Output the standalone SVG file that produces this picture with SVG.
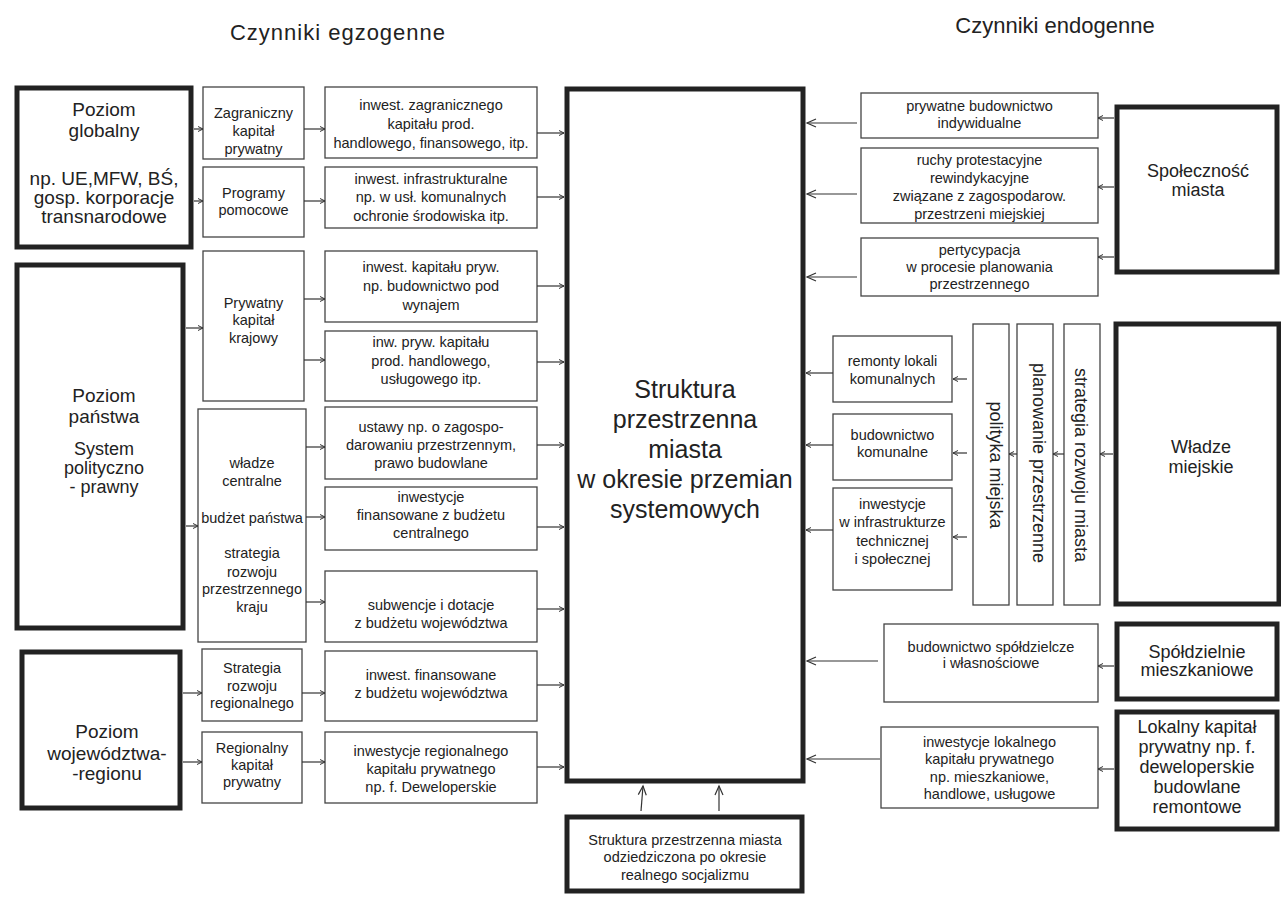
<svg xmlns="http://www.w3.org/2000/svg" width="1281" height="905" viewBox="0 0 1281 905">
<defs>
<marker id="s" markerUnits="userSpaceOnUse" markerWidth="8" markerHeight="8" refX="5" refY="3" orient="auto" overflow="visible"><path d="M0,0.5 L5,3 L0,5.5" fill="none" stroke="#333" stroke-width="1"/></marker>
<marker id="b" markerUnits="userSpaceOnUse" markerWidth="12" markerHeight="10" refX="9" refY="4" orient="auto" overflow="visible"><path d="M0,0 L9,4 L0,8" fill="none" stroke="#333" stroke-width="1.2"/></marker>
</defs>
<style>
text{font-family:"Liberation Sans",Arial,sans-serif;fill:#222;text-anchor:middle}
.t{font-size:22px}
.big{font-size:19px}
.m{font-size:18px}
.sm{font-size:14.5px}
.c{font-size:25px}
.thin{fill:#fff;stroke:#444;stroke-width:1.3}
.thick{fill:#fff;stroke:#222;stroke-width:5}
.cn line{stroke:#333;stroke-width:1.2}
.cs line{marker-end:url(#s)}
.cb line{marker-end:url(#b)}
</style>
<rect width="1281" height="905" fill="#fff"/>
<text class="t" x="338" y="40" letter-spacing="1">Czynniki egzogenne</text>
<text class="t" x="1055" y="33">Czynniki endogenne</text>

<g id="poziom-globalny"><rect class="thick" x="17" y="88" width="174" height="159"/>
<text class="big"><tspan x="104" y="116">Poziom</tspan><tspan x="104" y="137">globalny</tspan><tspan x="104" y="185">np. UE,MFW, BŚ,</tspan><tspan x="104" y="204">gosp. korporacje</tspan><tspan x="104" y="223">transnarodowe</tspan></text></g>
<g id="poziom-panstwa"><rect class="thick" x="17" y="265" width="166" height="363"/>
<text class="big"><tspan x="104" y="402">Poziom</tspan><tspan x="104" y="423">państwa</tspan></text>
<text class="m"><tspan x="104" y="455">System</tspan><tspan x="104" y="474">polityczno</tspan><tspan x="104" y="493">- prawny</tspan></text></g>
<g id="poziom-wojewodztwa"><rect class="thick" x="22" y="652" width="158" height="156"/>
<text class="big"><tspan x="107" y="738">Poziom</tspan><tspan x="107" y="760">województwa-</tspan><tspan x="107" y="780">-regionu</tspan></text></g>

<g id="zagraniczny"><rect class="thin" x="203" y="87" width="101" height="72"/>
<text class="sm"><tspan x="253.5" y="118">Zagraniczny</tspan><tspan x="253.5" y="136">kapitał</tspan><tspan x="253.5" y="154">prywatny</tspan></text></g>
<g id="programy"><rect class="thin" x="203" y="167" width="101" height="70"/>
<text class="sm"><tspan x="253.5" y="198">Programy</tspan><tspan x="253.5" y="215">pomocowe</tspan></text></g>
<g id="prywatny-krajowy"><rect class="thin" x="203" y="251" width="101" height="150"/>
<text class="sm"><tspan x="253.5" y="308">Prywatny</tspan><tspan x="253.5" y="325">kapitał</tspan><tspan x="253.5" y="343">krajowy</tspan></text></g>
<g id="wladze-centralne"><rect class="thin" x="198" y="409" width="108" height="233"/>
<text class="sm"><tspan x="252" y="468">władze</tspan><tspan x="252" y="486">centralne</tspan><tspan x="252" y="523">budżet państwa</tspan><tspan x="252" y="558">strategia</tspan><tspan x="252" y="577">rozwoju</tspan><tspan x="252" y="594">przestrzennego</tspan><tspan x="252" y="612">kraju</tspan></text></g>
<g id="strategia-regionalna"><rect class="thin" x="202" y="649" width="100" height="72"/>
<text class="sm"><tspan x="252" y="673">Strategia</tspan><tspan x="252" y="691">rozwoju</tspan><tspan x="252" y="708">regionalnego</tspan></text></g>
<g id="regionalny-kapital"><rect class="thin" x="202" y="732" width="100" height="71"/>
<text class="sm"><tspan x="252" y="753">Regionalny</tspan><tspan x="252" y="770">kapitał</tspan><tspan x="252" y="787">prywatny</tspan></text></g>

<g id="c1"><rect class="thin" x="325" y="87" width="212" height="71"/>
<text class="sm"><tspan x="431" y="110">inwest. zagranicznego</tspan><tspan x="431" y="129">kapitału prod.</tspan><tspan x="431" y="148">handlowego, finansowego, itp.</tspan></text></g>
<g id="c2"><rect class="thin" x="325" y="167" width="212" height="61"/>
<text class="sm"><tspan x="431" y="184">inwest. infrastrukturalne</tspan><tspan x="431" y="202">np. w usł. komunalnych</tspan><tspan x="431" y="221">ochronie środowiska itp.</tspan></text></g>
<g id="c3"><rect class="thin" x="325" y="251" width="212" height="71"/>
<text class="sm"><tspan x="431" y="272">inwest. kapitału pryw.</tspan><tspan x="431" y="291">np. budownictwo pod</tspan><tspan x="431" y="310">wynajem</tspan></text></g>
<g id="c4"><rect class="thin" x="325" y="331" width="212" height="70"/>
<text class="sm"><tspan x="431" y="347">inw. pryw. kapitału</tspan><tspan x="431" y="366">prod. handlowego,</tspan><tspan x="431" y="384">usługowego itp.</tspan></text></g>
<g id="c5"><rect class="thin" x="325" y="407" width="212" height="72"/>
<text class="sm"><tspan x="431" y="432">ustawy np. o zagospo-</tspan><tspan x="431" y="450">darowaniu przestrzennym,</tspan><tspan x="431" y="468">prawo budowlane</tspan></text></g>
<g id="c6"><rect class="thin" x="325" y="487" width="212" height="63"/>
<text class="sm"><tspan x="431" y="502">inwestycje</tspan><tspan x="431" y="520">finansowane z budżetu</tspan><tspan x="431" y="538">centralnego</tspan></text></g>
<g id="c7"><rect class="thin" x="325" y="571" width="212" height="71"/>
<text class="sm"><tspan x="431" y="610">subwencje i dotacje</tspan><tspan x="431" y="628">z budżetu województwa</tspan></text></g>
<g id="c8"><rect class="thin" x="325" y="651" width="212" height="70"/>
<text class="sm"><tspan x="431" y="680">inwest. finansowane</tspan><tspan x="431" y="698">z budżetu województwa</tspan></text></g>
<g id="c9"><rect class="thin" x="325" y="732" width="212" height="71"/>
<text class="sm"><tspan x="431" y="756">inwestycje regionalnego</tspan><tspan x="431" y="774">kapitału prywatnego</tspan><tspan x="431" y="792">np. f. Deweloperskie</tspan></text></g>

<g id="struktura"><rect class="thick" x="567" y="89" width="236" height="692"/>
<text class="c"><tspan x="685" y="398">Struktura</tspan><tspan x="685" y="428">przestrzenna</tspan><tspan x="685" y="458">miasta</tspan><tspan x="685" y="488">w okresie przemian</tspan><tspan x="685" y="518">systemowych</tspan></text></g>
<g id="odziedziczona"><rect class="thick" x="567" y="817" width="235" height="74"/>
<text class="sm"><tspan x="685" y="845">Struktura przestrzenna miasta</tspan><tspan x="685" y="862">odziedziczona po okresie</tspan><tspan x="685" y="880">realnego socjalizmu</tspan></text></g>

<g id="r1"><rect class="thin" x="861" y="93" width="237" height="45"/>
<text class="sm"><tspan x="979.5" y="111">prywatne budownictwo</tspan><tspan x="979.5" y="128">indywidualne</tspan></text></g>
<g id="r2"><rect class="thin" x="861" y="148" width="237" height="75"/>
<text class="sm"><tspan x="979.5" y="165">ruchy protestacyjne</tspan><tspan x="979.5" y="183">rewindykacyjne</tspan><tspan x="979.5" y="201">związane z zagospodarow.</tspan><tspan x="979.5" y="219">przestrzeni miejskiej</tspan></text></g>
<g id="r3"><rect class="thin" x="861" y="238" width="237" height="58"/>
<text class="sm"><tspan x="979.5" y="255">pertycypacja</tspan><tspan x="979.5" y="272">w procesie planowania</tspan><tspan x="979.5" y="289">przestrzennego</tspan></text></g>
<g id="spolecznosc"><rect class="thick" x="1117" y="107" width="160" height="165"/>
<text class="m"><tspan x="1198" y="177">Społeczność</tspan><tspan x="1198" y="196">miasta</tspan></text></g>

<g id="m1"><rect class="thin" x="833" y="336" width="119" height="66"/>
<text class="sm"><tspan x="892.5" y="366">remonty lokali</tspan><tspan x="892.5" y="384">komunalnych</tspan></text></g>
<g id="m2"><rect class="thin" x="833" y="414" width="119" height="66"/>
<text class="sm"><tspan x="892.5" y="440">budownictwo</tspan><tspan x="892.5" y="457">komunalne</tspan></text></g>
<g id="m3"><rect class="thin" x="833" y="488" width="119" height="102"/>
<text class="sm"><tspan x="892.5" y="509">inwestycje</tspan><tspan x="892.5" y="527">w infrastrukturze</tspan><tspan x="892.5" y="546">technicznej</tspan><tspan x="892.5" y="564">i społecznej</tspan></text></g>
<g id="polityka"><rect class="thin" x="973" y="324" width="36" height="281"/>
<text class="m" transform="translate(996,465) rotate(90)" dominant-baseline="central">polityka miejska</text></g>
<g id="planowanie"><rect class="thin" x="1017" y="324" width="36" height="281"/>
<text class="m" transform="translate(1039,463) rotate(90)" dominant-baseline="central">planowanie przestrzenne</text></g>
<g id="strategia-miasta"><rect class="thin" x="1064" y="324" width="36" height="281"/>
<text class="m" transform="translate(1081,465) rotate(90)" dominant-baseline="central">strategia rozwoju miasta</text></g>
<g id="wladze-miejskie"><rect class="thick" x="1116" y="324" width="163" height="280"/>
<text class="m"><tspan x="1201" y="453">Władze</tspan><tspan x="1201" y="473">miejskie</tspan></text></g>

<g id="b1"><rect class="thin" x="884" y="624" width="214" height="78"/>
<text class="sm"><tspan x="991" y="652">budownictwo spółdzielcze</tspan><tspan x="991" y="668">i własnościowe</tspan></text></g>
<g id="spoldzielnie"><rect class="thick" x="1117" y="624" width="160" height="75"/>
<text class="m"><tspan x="1197" y="658">Spółdzielnie</tspan><tspan x="1197" y="676">mieszkaniowe</tspan></text></g>
<g id="b2"><rect class="thin" x="881" y="727" width="217" height="81"/>
<text class="sm"><tspan x="989.5" y="747">inwestycje lokalnego</tspan><tspan x="989.5" y="764">kapitału prywatnego</tspan><tspan x="989.5" y="782">np. mieszkaniowe,</tspan><tspan x="989.5" y="799">handlowe, usługowe</tspan></text></g>
<g id="lokalny"><rect class="thick" x="1117" y="712" width="160" height="117"/>
<text class="m"><tspan x="1197" y="733">Lokalny kapitał</tspan><tspan x="1197" y="753">prywatny np. f.</tspan><tspan x="1197" y="773">deweloperskie</tspan><tspan x="1197" y="793">budowlane</tspan><tspan x="1197" y="813">remontowe</tspan></text></g>

<g id="connectors" class="cn">
<g class="cs">
<line x1="194" y1="129" x2="203" y2="129"/>
<line x1="194" y1="201" x2="203" y2="201"/>
<line x1="186" y1="328" x2="203" y2="328"/>
<line x1="186" y1="526" x2="198" y2="526"/>
<line x1="183" y1="693" x2="202" y2="693"/>
<line x1="183" y1="762" x2="202" y2="762"/>
<line x1="304" y1="129" x2="325" y2="129"/>
<line x1="304" y1="201" x2="325" y2="201"/>
<line x1="304" y1="299" x2="325" y2="299"/>
<line x1="304" y1="360" x2="325" y2="360"/>
<line x1="306" y1="447" x2="325" y2="447"/>
<line x1="306" y1="517" x2="325" y2="517"/>
<line x1="306" y1="602" x2="325" y2="602"/>
<line x1="302" y1="693" x2="325" y2="693"/>
<line x1="302" y1="762" x2="325" y2="762"/>
<line x1="537" y1="133" x2="564" y2="133"/>
<line x1="537" y1="197" x2="564" y2="197"/>
<line x1="537" y1="286" x2="564" y2="286"/>
<line x1="537" y1="362" x2="564" y2="362"/>
<line x1="537" y1="445" x2="564" y2="445"/>
<line x1="537" y1="527" x2="564" y2="527"/>
<line x1="537" y1="609" x2="564" y2="609"/>
<line x1="537" y1="685" x2="564" y2="685"/>
<line x1="537" y1="767" x2="564" y2="767"/>
<line x1="1114" y1="118" x2="1098" y2="118"/>
<line x1="1114" y1="187" x2="1098" y2="187"/>
<line x1="1114" y1="257" x2="1098" y2="257"/>
<line x1="967" y1="379" x2="953" y2="379"/>
<line x1="967" y1="453" x2="953" y2="453"/>
<line x1="967" y1="537" x2="953" y2="537"/>
<line x1="1017" y1="454" x2="1009" y2="454"/>
<line x1="1064" y1="454" x2="1053" y2="454"/>
<line x1="1113" y1="454" x2="1100" y2="454"/>
<line x1="1114" y1="666" x2="1098" y2="666"/>
<line x1="1114" y1="769" x2="1098" y2="769"/>
<line x1="833" y1="373" x2="806" y2="373"/>
<line x1="833" y1="445" x2="806" y2="445"/>
<line x1="833" y1="530" x2="806" y2="530"/>
</g>
<g class="cb">
<line x1="857" y1="123" x2="807" y2="123"/>
<line x1="857" y1="194" x2="807" y2="194"/>
<line x1="857" y1="277" x2="807" y2="277"/>
<line x1="878" y1="661" x2="807" y2="661"/>
<line x1="880" y1="759" x2="807" y2="759"/>
<line x1="641" y1="811" x2="643" y2="786"/>
<line x1="719" y1="811" x2="719" y2="786"/>
</g>
</g>
</svg>
